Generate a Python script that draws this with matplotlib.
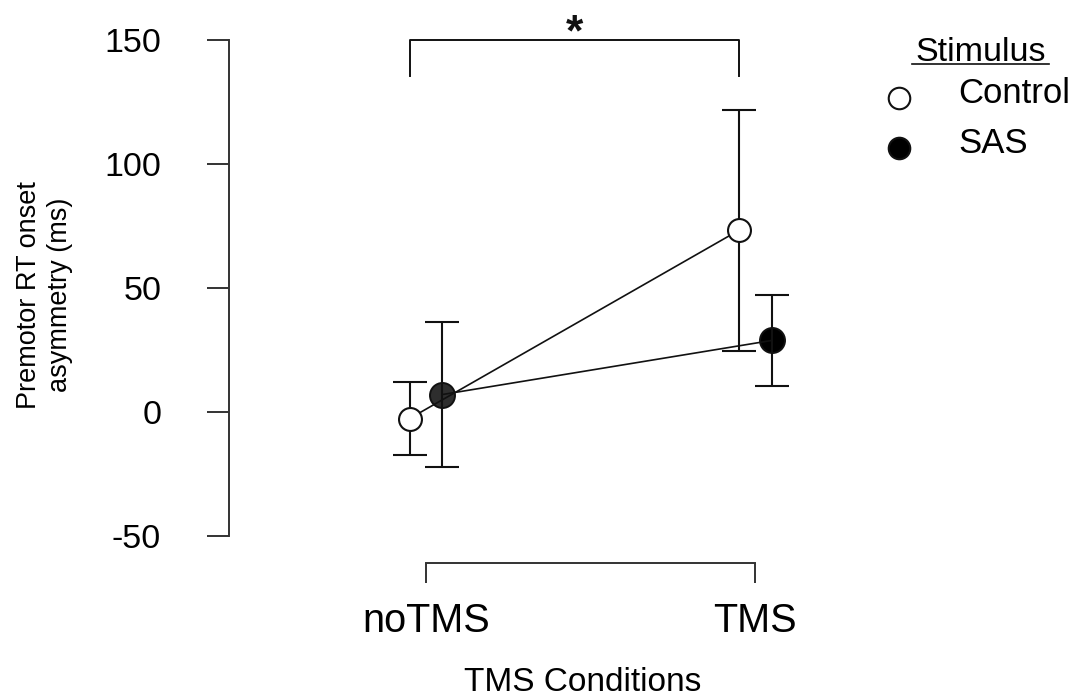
import matplotlib
matplotlib.use("Agg")
import matplotlib.pyplot as plt
from matplotlib.lines import Line2D
import numpy as np

plt.rcParams['font.family'] = ['Liberation Sans', 'DejaVu Sans']
plt.rcParams['axes.unicode_minus'] = False

# ---- data ----
conditions = ['noTMS', 'TMS']
stimuli = ['Control', 'SAS']
control_mean = [-2.65, 73.25]
control_err = [14.6, 48.5]
sas_mean = [7.05, 28.85]
sas_err = [29.4, 18.4]
y_ticks = [-50, 0, 50, 100, 150]

W, H = 1078, 696
fig = plt.figure(figsize=(W / 100, H / 100), dpi=100)
ax = fig.add_axes([229 / W, 160 / H, 651 / W, 496 / H])

x = np.arange(1, len(conditions) + 1)
dodge = 0.05
xc = x - dodge
xs = x + dodge

ink = '#111111'
# SAS (filled) markers below lines
ax.plot(xs[:1], sas_mean[:1], 'o', ms=18, mfc='#2e2e2e', mec=ink, mew=1.4, zorder=2)
ax.plot(xs[1:], sas_mean[1:], 'o', ms=18, mfc='black', mec=ink, mew=1.4, zorder=2)
# connecting lines
ax.plot(xc, control_mean, '-', color=ink, lw=1.2, zorder=3)
ax.plot(xs, sas_mean, '-', color=ink, lw=1.2, zorder=3)
# error bars
ax.errorbar(xc, control_mean, yerr=control_err, fmt='none', ecolor=ink,
            elinewidth=1.5, capsize=12, capthick=1.5, zorder=3)
ax.errorbar(xs, sas_mean, yerr=sas_err, fmt='none', ecolor=ink,
            elinewidth=1.5, capsize=12, capthick=1.5, zorder=3)
# Control (open) markers on top
ax.plot(xc, control_mean, 'o', ms=16.5, mfc='white', mec=ink, mew=1.5, zorder=5)

# significance bracket
ax.plot([xc[0], xc[0], xc[1], xc[1]], [135.5, 150, 150, 135.5], color=ink,
        lw=1.4, clip_on=False)
ax.text((xc[0] + xc[1]) / 2, 148.0, '*', ha='center', va='baseline',
        fontsize=32, fontweight='bold', color=ink, clip_on=False)

# axes styling
ax.set_xlim(0.4018, 2.3787)
ax.set_ylim(-50, 150)
for s in ['top', 'right']:
    ax.spines[s].set_visible(False)
ax.spines['left'].set_bounds(-50, 150)
ax.spines['bottom'].set_bounds(1, 2)
ax.spines['bottom'].set_position(('outward', 19.4))
for s in ['left', 'bottom']:
    ax.spines[s].set_color('#333333')
    ax.spines[s].set_linewidth(1.4)

ax.set_yticks(y_ticks)
ax.set_yticklabels([str(v) for v in y_ticks])
ax.set_xticks(x)
ax.set_xticklabels(conditions)
ax.tick_params(axis='y', direction='out', length=15.8, width=1.4, color='#333333',
               pad=33, labelsize=24.5)
ax.tick_params(axis='x', direction='out', length=14.4, width=1.4, color='#333333',
               pad=14, labelsize=28.5)

ax.set_xlabel('TMS Conditions', fontsize=24)
ax.xaxis.set_label_coords(0.544, -0.312)
ax.xaxis.label.set_verticalalignment('baseline')

ax.set_ylabel('Premotor RT onset\nasymmetry (ms)', fontsize=19.5, linespacing=1.25)
ax.yaxis.set_label_coords(-0.284, 0.486)
ax.yaxis.label.set_verticalalignment('center')

# legend (manual, figure pixel coordinates)
def fx(px):
    return px / W

def fy(py):
    return 1 - py / H

fig.text(fx(980.5), fy(61), 'Stimulus', ha='center', va='baseline', fontsize=24.5)
fig.add_artist(Line2D([fx(912), fx(1049)], [fy(63.5), fy(63.5)], color=ink, lw=1.2))
fig.add_artist(Line2D([fx(899)], [fy(98.3)], marker='o', ms=15.5, mfc='white',
                      mec=ink, mew=1.5, ls='none'))
fig.add_artist(Line2D([fx(899)], [fy(148.3)], marker='o', ms=15.5, mfc='black',
                      mec=ink, mew=1.5, ls='none'))
fig.text(fx(958), fy(102.7), stimuli[0], ha='left', va='baseline', fontsize=25)
fig.text(fx(958), fy(153), stimuli[1], ha='left', va='baseline', fontsize=25)

fig.savefig('out.png', dpi=100)
